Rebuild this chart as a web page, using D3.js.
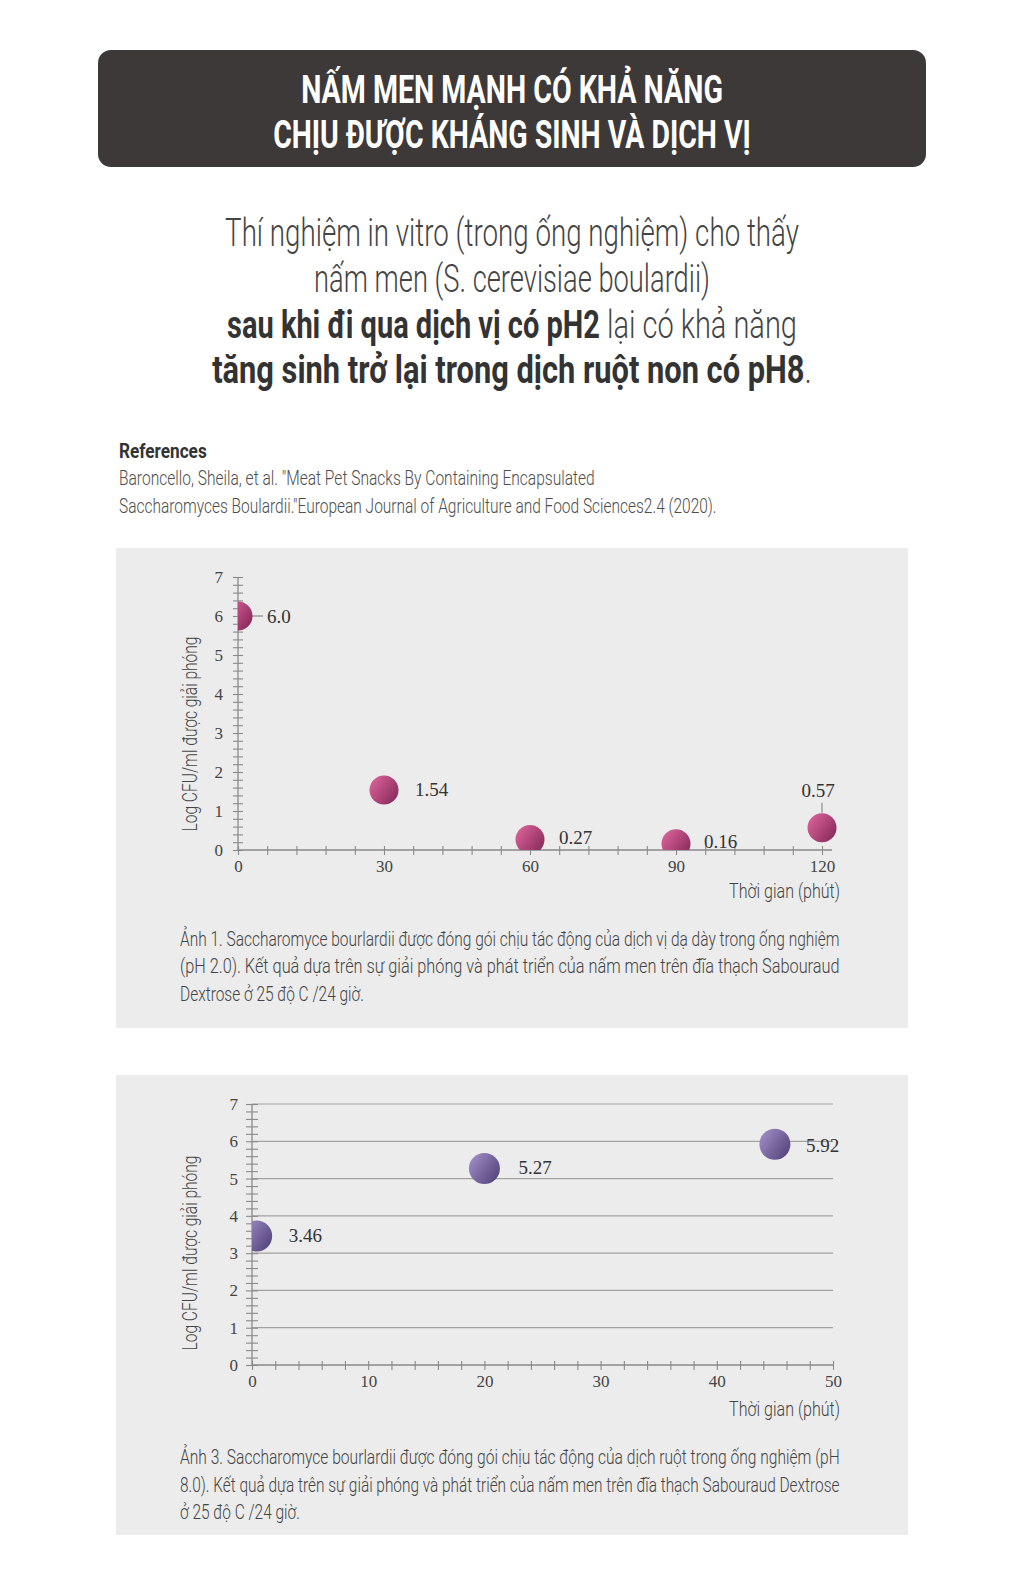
<!DOCTYPE html>
<html>
<head>
<meta charset="utf-8">
<script src="https://cdn.jsdelivr.net/npm/d3@7"></script>
<style>
html,body{margin:0;padding:0;background:#fff;}
svg{display:block;}
</style>
</head>
<body>
<svg id="page" width="1024" height="1581"></svg>
<script>
// ---------------- DATA ----------------
const titleLines = ["NẤM MEN MẠNH CÓ KHẢ NĂNG", "CHỊU ĐƯỢC KHÁNG SINH VÀ DỊCH VỊ"];
const subtitleLines = [
  [{t:"Thí nghiệm in vitro (trong ống nghiệm) cho thấy", b:false}],
  [{t:"nấm men (S. cerevisiae boulardii)", b:false}],
  [{t:"sau khi đi qua dịch vị có pH2", b:true},{t:" lại có khả năng", b:false}],
  [{t:"tăng sinh trở lại trong dịch ruột non có pH8", b:true},{t:".", b:false}]
];
const refHeading = "References";
const refLines = [
  "Baroncello, Sheila, et al. \"Meat Pet Snacks By Containing Encapsulated",
  "Saccharomyces Boulardii.\"European Journal of Agriculture and Food Sciences2.4 (2020)."
];
const yAxisTitle = "Log CFU/ml được giải phóng";
const xAxisTitle = "Thời gian (phút)";

// Chart 1 (pH 2.0)
const chart1Time = [0, 30, 60, 90, 120];
const chart1Value = [6.0, 1.54, 0.27, 0.16, 0.57];
const chart1Labels = ["6.0", "1.54", "0.27", "0.16", "0.57"];
const chart1XTicks = [0, 30, 60, 90, 120];
const chart1YTicks = [0, 1, 2, 3, 4, 5, 6, 7];
const chart1Caption = [
  "Ảnh 1. Saccharomyce bourlardii được đóng gói chịu tác động của dịch vị dạ dày trong ống nghiệm",
  "(pH 2.0). Kết quả dựa trên sự giải phóng và phát triển của nấm men trên đĩa thạch Sabouraud",
  "Dextrose ở 25 độ C /24 giờ."
];

// Chart 2 (pH 8.0)
const chart2Time = [0.4, 20, 45];
const chart2Value = [3.46, 5.27, 5.92];
const chart2Labels = ["3.46", "5.27", "5.92"];
const chart2XTicks = [0, 10, 20, 30, 40, 50];
const chart2YTicks = [0, 1, 2, 3, 4, 5, 6, 7];
const chart2Caption = [
  "Ảnh 3. Saccharomyce bourlardii được đóng gói chịu tác động của dịch ruột trong ống nghiệm (pH",
  "8.0). Kết quả dựa trên sự giải phóng và phát triển của nấm men trên đĩa thạch Sabouraud Dextrose",
  "ở 25 độ C /24 giờ."
];

// ---------------- RENDER ----------------
const SANS = "Roboto, 'Open Sans', 'Noto Sans', sans-serif";
const SERIF = "'Liberation Serif', 'DejaVu Serif', serif";
const svg = d3.select("#page");

const defs = svg.append("defs");
function grad(id, c1, c2) {
  const g = defs.append("linearGradient").attr("id", id)
    .attr("x1", "0%").attr("y1", "15%").attr("x2", "100%").attr("y2", "85%");
  g.append("stop").attr("offset", "0%").attr("stop-color", c1);
  g.append("stop").attr("offset", "100%").attr("stop-color", c2);
}
grad("gPink", "#dc649a", "#86285a");
grad("gPurple", "#a090c6", "#52407a");

// place a text so that its rendered width equals w (horizontal condensing)
function fitText(sel, x, y, w, anchor) {
  sel.attr("text-anchor", anchor || "start").attr("x", 0).attr("y", 0);
  const bw = sel.node().getBBox().width;
  const s = w / bw;
  sel.attr("transform", `translate(${x},${y}) scale(${s},1)`);
  return sel;
}

const CX = 512;

// header box
svg.append("rect").attr("x", 98).attr("y", 50).attr("width", 828).attr("height", 117)
  .attr("rx", 13).attr("fill", "#3c3938");
const titleW = [422, 478], titleY = [103, 148];
titleLines.forEach((t, i) => {
  const tx = svg.append("text").text(t).attr("fill", "#fff")
    .style("font-family", SANS).style("font-weight", 700).style("font-size", "38px");
  fitText(tx, CX, titleY[i], titleW[i], "middle");
});

// subtitle
const subW = [574, 396, 570, 600], subY = [246, 292, 338, 383];
subtitleLines.forEach((parts, i) => {
  const tx = svg.append("text").style("font-family", SANS).style("font-size", "39px");
  parts.forEach(p => tx.append("tspan").text(p.t)
    .style("font-weight", p.b ? 700 : 300).attr("fill", p.b ? "#333" : "#444"));
  fitText(tx, CX, subY[i], subW[i], "middle");
});

// references
fitText(svg.append("text").text(refHeading).attr("fill", "#333")
  .style("font-family", SANS).style("font-weight", 700).style("font-size", "21px"), 119, 458, 88);
const refW = [476, 598], refY = [485, 513];
refLines.forEach((t, i) => {
  fitText(svg.append("text").text(t).attr("fill", "#4d4d4d")
    .style("font-family", SANS).style("font-weight", 300).style("font-size", "20px"), 119, refY[i], refW[i]);
});

function drawChart(cfg) {
  const g = svg.append("g");
  g.append("rect").attr("x", 116).attr("y", cfg.panelTop).attr("width", 792)
    .attr("height", cfg.panelH).attr("fill", "#ececec");

  const x = d3.scaleLinear().domain(cfg.xDomain).range(cfg.xRange);
  const y = d3.scaleLinear().domain([0, 7]).range(cfg.yRange);
  const x0 = x(0), y0 = y(0);

  // gridlines
  if (cfg.grid) {
    g.append("g").selectAll("line").data(cfg.yTicks.filter(d => d > 0)).join("line")
      .attr("x1", x0).attr("x2", x(cfg.xDomain[1])).attr("y1", d => y(d)).attr("y2", d => y(d))
      .attr("stroke", "#a2a2a2").attr("stroke-width", 1.2);
  }

  // y axis with minor ticks crossing the axis line
  const yMinor = d3.range(0, 7.0001, 0.2);
  const yAx = g.append("g").attr("transform", `translate(${x0 + cfg.yTickHalf},0)`)
    .call(d3.axisLeft(y).tickValues(yMinor).tickSize(cfg.yTickHalf * 2).tickFormat(""));
  yAx.select(".domain").remove();
  yAx.selectAll("line").attr("stroke", "#8a8a8a").attr("stroke-width", 1.1);
  const yLab = g.append("g").attr("transform", `translate(${x0},0)`)
    .call(d3.axisLeft(y).tickValues(cfg.yTicks).tickSize(0).tickPadding(cfg.yPad).tickFormat(d3.format("d")));
  yLab.select(".domain").remove();
  yLab.selectAll("text").style("font-family", SERIF).style("font-size", "17px").attr("fill", "#444");
  g.append("line").attr("x1", x0).attr("x2", x0).attr("y1", y0).attr("y2", y(7))
    .attr("stroke", "#8a8a8a").attr("stroke-width", 1.3);

  // x axis
  const xMinor = d3.range(cfg.xDomain[0], cfg.xDomain[1] + 0.001, cfg.xMinorStep);
  const xAx = g.append("g").attr("transform", `translate(0,${y0 - 4})`)
    .call(d3.axisBottom(x).tickValues(xMinor).tickSize(9).tickFormat(""));
  xAx.select(".domain").remove();
  xAx.selectAll("line").attr("stroke", "#8a8a8a").attr("stroke-width", 1.1);
  const xLab = g.append("g").attr("transform", `translate(0,${y0})`)
    .call(d3.axisBottom(x).tickValues(cfg.xTicks).tickSize(0).tickPadding(cfg.xPad).tickFormat(d3.format("d")));
  xLab.select(".domain").remove();
  xLab.selectAll("text").style("font-family", SERIF).style("font-size", "17px").attr("fill", "#444");
  g.append("line").attr("x1", x0).attr("x2", cfg.xAxisEnd).attr("y1", y0).attr("y2", y0)
    .attr("stroke", "#8a8a8a").attr("stroke-width", 1.3);

  // axis titles
  fitText(g.append("text").text(xAxisTitle).attr("fill", "#444")
    .style("font-family", SANS).style("font-weight", 300).style("font-size", "21px"),
    840, cfg.xTitleY, 111, "end");
  const yt = g.append("text").text(yAxisTitle).attr("fill", "#444")
    .style("font-family", SANS).style("font-weight", 300).style("font-size", "21px")
    .attr("text-anchor", "middle");
  const bw = yt.node().getBBox().width;
  yt.attr("transform", `translate(${cfg.yTitleX},${cfg.yTitleY}) rotate(-90) scale(${195 / bw},1)`);

  // points, clipped to the plot area
  const clipId = "clip" + cfg.id;
  defs.append("clipPath").attr("id", clipId).append("rect")
    .attr("x", x0).attr("y", y(7) - 20).attr("width", cfg.xAxisEnd - x0 + 30).attr("height", y0 - y(7) + 20);
  const pts = cfg.time.map((t, i) => ({t, v: cfg.value[i], lab: cfg.labels[i], p: cfg.place[i]}));

  // leader lines
  g.append("g").selectAll("line").data(pts.filter(d => d.p.leader)).join("line")
    .attr("x1", d => x(d.t) + d.p.leader[0]).attr("y1", d => y(d.v) + d.p.leader[1])
    .attr("x2", d => x(d.t) + d.p.leader[2]).attr("y2", d => y(d.v) + d.p.leader[3])
    .attr("stroke", "#8a8a8a").attr("stroke-width", 1.2);

  g.append("g").attr("clip-path", `url(#${clipId})`).selectAll("circle").data(pts).join("circle")
    .attr("cx", d => x(d.t)).attr("cy", d => y(d.v)).attr("r", cfg.r)
    .attr("fill", `url(#${cfg.grad})`);

  g.append("g").selectAll("text").data(pts).join("text")
    .attr("x", d => x(d.t) + d.p.dx).attr("y", d => y(d.v) + d.p.dy)
    .attr("text-anchor", d => d.p.anchor || "start")
    .style("font-family", SERIF).style("font-size", "19px").attr("fill", "#333")
    .text(d => d.lab);

  // caption
  cfg.caption.forEach((t, i) => {
    fitText(g.append("text").text(t).attr("fill", "#444")
      .style("font-family", SANS).style("font-weight", 300).style("font-size", "21px"),
      180, cfg.capY[i], cfg.capW[i]);
  });
}

drawChart({
  id: 1, panelTop: 548, panelH: 480, grid: false,
  xDomain: [0, 120], xRange: [238, 822], yRange: [850, 577], xAxisEnd: 832,
  xTicks: chart1XTicks, yTicks: chart1YTicks, xMinorStep: 6,
  yTickHalf: 5, yPad: 15, xPad: 10,
  time: chart1Time, value: chart1Value, labels: chart1Labels,
  place: [
    {dx: 29, dy: 7, leader: [0, 0, 25, 0]},
    {dx: 31, dy: 6},
    {dx: 29, dy: 5},
    {dx: 28, dy: 4},
    {dx: -4, dy: -31, anchor: "middle", leader: [0, -15, 0, -25]}
  ],
  r: 14.5, grad: "gPink",
  xTitleY: 898, yTitleX: 197, yTitleY: 734,
  caption: chart1Caption, capY: [946, 973, 1001], capW: [660, 660, 184]
});

drawChart({
  id: 2, panelTop: 1075, panelH: 460, grid: true,
  xDomain: [0, 50], xRange: [252, 833], yRange: [1365, 1104], xAxisEnd: 833,
  xTicks: chart2XTicks, yTicks: chart2YTicks, xMinorStep: 2,
  yTickHalf: 6, yPad: 14, xPad: 10,
  time: chart2Time, value: chart2Value, labels: chart2Labels,
  place: [
    {dx: 32, dy: 6},
    {dx: 34, dy: 5},
    {dx: 31, dy: 8}
  ],
  r: 15.5, grad: "gPurple",
  xTitleY: 1416, yTitleX: 197, yTitleY: 1253,
  caption: chart2Caption, capY: [1464, 1492, 1519], capW: [660, 660, 120]
});
</script>
</body>
</html>
